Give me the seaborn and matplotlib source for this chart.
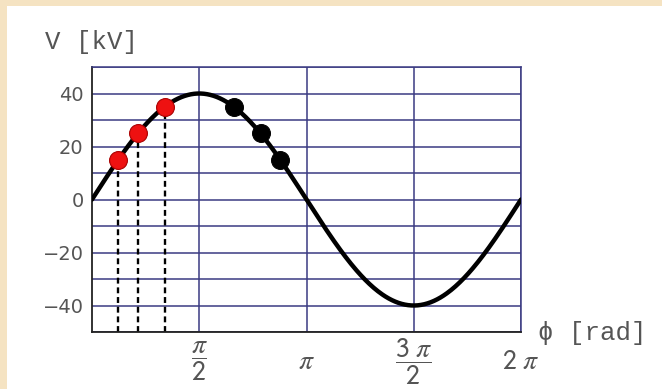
import matplotlib

matplotlib.use("Agg")
import matplotlib.pyplot as plt
import numpy as np
import pandas as pd
import seaborn as sns
from matplotlib.patches import Rectangle

# chart values
V_PEAK = 40  # kV amplitude of the sine
PHI_MAX = 2 * np.pi
RED_PHI = [0.38, 0.68, 1.07]
RED_V = [15, 25, 35]
BLACK_PHI = [2.08, 2.47, 2.76]
BLACK_V = [35, 25, 15]
Y_TICKS = [-40, -20, 0, 20, 40]
X_TICKS = [np.pi / 2, np.pi, 3 * np.pi / 2, 2 * np.pi]
X_TICK_LABELS = [r"$\dfrac{\pi}{\mathsf{2}}$", r"$\pi$",
                 r"$\dfrac{\mathsf{3}\ \pi}{\mathsf{2}}$", r"$\mathsf{2}\ \pi$"]

GRID = "#3b3b82"
TEXT = "#555555"

sns.set_theme(style="white")
plt.rcParams["mathtext.fontset"] = "stix"
plt.rcParams["font.family"] = ["DejaVu Sans"]

phi = np.linspace(0, PHI_MAX, 400)
curve = pd.DataFrame({"phi": phi, "V": V_PEAK * np.sin(phi)})
red = pd.DataFrame({"phi": RED_PHI, "V": RED_V})
black = pd.DataFrame({"phi": BLACK_PHI, "V": BLACK_V})

fig = plt.figure(figsize=(6.62, 3.89), dpi=100, facecolor="#f5e3c2")
fig.patches.append(Rectangle((7 / 662, 0), 1, 1 - 6 / 389, transform=fig.transFigure,
                             facecolor="white", edgecolor="none", zorder=-5))
ax = fig.add_axes([92 / 662, 57 / 389, 429 / 662, 265 / 389])
ax.set_zorder(2)
ax.set_facecolor("white")

# dashed drop lines under the red points
for p, v in zip(RED_PHI, RED_V):
    ax.plot([p, p], [-50, v], color="black", linestyle=(0, (2.5, 1.6)), linewidth=1.7, zorder=2)

sns.lineplot(data=curve, x="phi", y="V", color="black", linewidth=3.2, ax=ax, zorder=3)
sns.scatterplot(data=red, x="phi", y="V", color="#ee1111", edgecolor="#aa0000",
                s=165, linewidth=0.8, ax=ax, zorder=4)
sns.scatterplot(data=black, x="phi", y="V", color="black", edgecolor="black",
                s=165, linewidth=0.8, ax=ax, zorder=4)

ax.set_xlim(0, PHI_MAX)
ax.set_ylim(-50, 50)
ax.set_yticks(Y_TICKS)
ax.set_yticks(np.arange(-50, 51, 10), minor=True)
ax.set_xticks(X_TICKS)
ax.set_xticklabels(X_TICK_LABELS)
ax.grid(True, which="both", color=GRID, linewidth=1.1)
ax.set_axisbelow(True)
ax.tick_params(axis="y", which="both", length=0, labelsize=14, labelcolor=TEXT, pad=6)
ax.tick_params(axis="x", length=0, labelsize=20, labelcolor=TEXT, pad=21)
for lab in ax.get_xticklabels():
    lab.set_va("center")
ax.set_xlabel("")
ax.set_ylabel("")

for side in ("top", "right"):
    ax.spines[side].set_color(GRID)
    ax.spines[side].set_linewidth(1.1)
for side in ("left", "bottom"):
    ax.spines[side].set_color("#222222")
    ax.spines[side].set_linewidth(1.3)

mono = ["Liberation Mono", "DejaVu Sans Mono"]
fig.text(45 / 662, 1 - 42 / 389, "V [kV]", family=mono, fontsize=18.5, color=TEXT,
         ha="left", va="center")
fig.text(538 / 662, 1 - 333 / 389, "\u03d5 [rad]", family=mono, fontsize=18.5,
         color=TEXT, ha="left", va="center")

fig.savefig("out.png", dpi=100, facecolor=fig.get_facecolor())
